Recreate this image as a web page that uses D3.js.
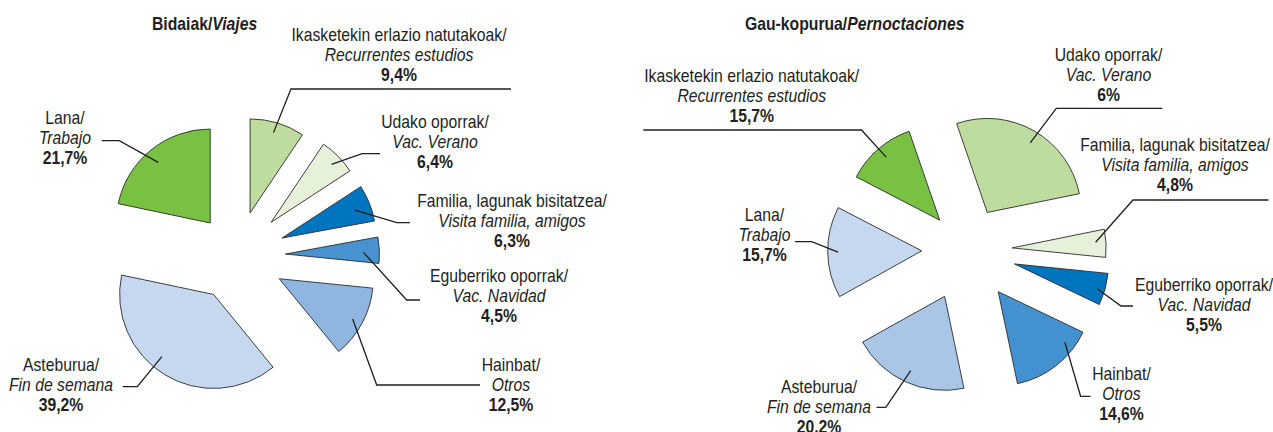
<!DOCTYPE html>
<html>
<head>
<meta charset="utf-8">
<script src="https://cdn.jsdelivr.net/npm/d3@7"></script>
<style>
  body { margin: 0; background: #fff; }
  text { font-family: "Liberation Sans", Arial, sans-serif; fill: #231f20; }
</style>
</head>
<body>
<div id="chart"></div>
<script>
// kategoriak / categorías (euskaraz eta gaztelaniaz)
var categoriesEu = ["Ikasketekin erlazio natutakoak/", "Udako oporrak/", "Familia, lagunak bisitatzea/",
                    "Eguberriko oporrak/", "Hainbat/", "Asteburua/", "Lana/"];
var categoriesEs = ["Recurrentes estudios", "Vac. Verano", "Visita familia, amigos",
                    "Vac. Navidad", "Otros", "Fin de semana", "Trabajo"];

// Bidaiak / Viajes
var tripsValues = [9.4, 6.4, 6.3, 4.5, 12.5, 39.2, 21.7];
var tripsLabels = ["9,4%", "6,4%", "6,3%", "4,5%", "12,5%", "39,2%", "21,7%"];

// Gau-kopurua / Pernoctaciones
// slice sizes as drawn in the original (its printed labels differ for the first two)
var nightsValues = [12.1, 27.1, 4.8, 5.5, 14.6, 20.2, 15.7];
var nightsLabels = ["15,7%", "6%", "4,8%", "5,5%", "14,6%", "20,2%", "15,7%"];

var width = 1273, height = 432, radius = 94;
var squeeze = 0.9;   // condensed look of the original type

var svg = d3.select("#chart").append("svg")
            .attr("width", width)
            .attr("height", height);

var charts = [
  { titleEu: "Bidaiak/", titleEs: "Viajes", titleX: 152,
    values: tripsValues, labels: tripsLabels,
    colors: ["#bddc9e", "#e6f1da", "#0075bf", "#4792cf", "#8fb6e0", "#c5d8ef", "#79c143"],
    cx: 237, cy: 256, start: 0,
    explode: [45, 48, 48.5, 48.5, 48, 45, 42.5],
    tips: [[0.48, 0.89], [0.54, 0.89], [0.54, 0.83], [0.57, 0.83], [0.51, 0.89], [0.56, 0.86], [0.48, 0.85]],
    text: [[399, 34.5], [435, 121.5], [512, 200.5], [499, 276], [511, 365], [61, 365], [65, 118]],
    leaders: [[291, 89, 511, 89], [362, 153.7, 380, 153.7], [396.7, 222.7, 410, 222.7], [406.7, 300, 420, 300],
              [376.7, 385, 480, 385], [137.3, 386.7, 122.7, 386.7], [119.3, 140.7, 101.7, 140.7]] },
  { titleEu: "Gau-kopurua/", titleEs: "Pernoctaciones", titleX: 745,
    values: nightsValues, labels: nightsLabels,
    colors: ["#79c143", "#bddc9e", "#e6f1da", "#0075bf", "#4391cf", "#aac6e6", "#c5d8ef"],
    cx: 965.7, cy: 250.2, start: -62.6,
    explode: [39.7, 43.5, 46.5, 50.7, 52.7, 50.7, 44],
    tips: [[0.51, 0.88], [0.52, 0.87], [0.44, 0.89], [0.55, 0.92], [0.22, 0.89], [0.5, 0.87], [0.5, 0.89]],
    text: [[751.7, 76], [1108.5, 55], [1175, 145], [1204, 285], [1121.5, 373.5], [819, 387], [764.5, 215]],
    leaders: [[861.5, 130, 643.3, 130], [1056.3, 108.3, 1162.3, 108.3], [1133, 200, 1268.5, 200], [1121, 306, 1133, 306],
              [1080.6, 396.3, 1090.5, 396.3], [885.8, 407.3, 876.5, 407.3], [811.7, 241.7, 795, 241.7]] }
];

var arc = d3.arc().innerRadius(0).outerRadius(radius);

charts.forEach(function(c){
    var s = c.start * Math.PI / 180;
    var pie = d3.pie().sort(null).startAngle(s).endAngle(s + 2 * Math.PI);
    var arcs = pie(c.values);

    // title
    var t = svg.append("text")
               .attr("transform", "translate(" + c.titleX + ",30) scale(" + squeeze + ",1)")
               .style("font-size", "17.5px")
               .style("font-weight", "bold");
    t.append("tspan").text(c.titleEu);
    t.append("tspan").style("font-style", "italic").text(c.titleEs);

    // exploded slices
    var g = svg.append("g");
    var apex = arcs.map(function(d, i){
        var mid = (d.startAngle + d.endAngle) / 2;
        return [c.cx + c.explode[i] * Math.sin(mid), c.cy - c.explode[i] * Math.cos(mid)];
    });
    g.selectAll("path")
     .data(arcs)
     .enter()
     .append("path")
     .attr("transform", function(d, i){ return "translate(" + apex[i][0] + "," + apex[i][1] + ")"; })
     .attr("d", arc)
     .attr("fill", function(d, i){ return c.colors[i]; })
     .attr("stroke", "#2b2b2b")
     .attr("stroke-width", 0.9);

    // leader lines
    g.selectAll("polyline")
     .data(arcs)
     .enter()
     .append("polyline")
     .attr("points", function(d, i){
         var a = d.startAngle + c.tips[i][0] * (d.endAngle - d.startAngle);
         var r = c.tips[i][1] * radius;
         var tx = apex[i][0] + r * Math.sin(a), ty = apex[i][1] - r * Math.cos(a);
         var l = c.leaders[i];
         return [tx, ty, l[0], l[1], l[2], l[3]].join(",");
     })
     .attr("fill", "none")
     .attr("stroke", "#231f20")
     .attr("stroke-width", 1.3);

    // labels
    var lab = svg.append("g").selectAll("text")
                 .data(arcs)
                 .enter()
                 .append("text")
                 .attr("transform", function(d, i){ return "translate(" + c.text[i][0] + "," + c.text[i][1] + ") scale(" + squeeze + ",1)"; })
                 .attr("text-anchor", "middle")
                 .style("font-size", "17.5px");
    lab.append("tspan")
       .attr("x", 0).attr("y", 6.3)
       .text(function(d, i){ return categoriesEu[i]; });
    lab.append("tspan")
       .attr("x", 0).attr("y", 26.3)
       .style("font-style", "italic")
       .text(function(d, i){ return categoriesEs[i]; });
    lab.append("tspan")
       .attr("x", 0).attr("y", 46.3)
       .style("font-weight", "bold")
       .text(function(d, i){ return c.labels[i]; });
});
</script>
</body>
</html>
